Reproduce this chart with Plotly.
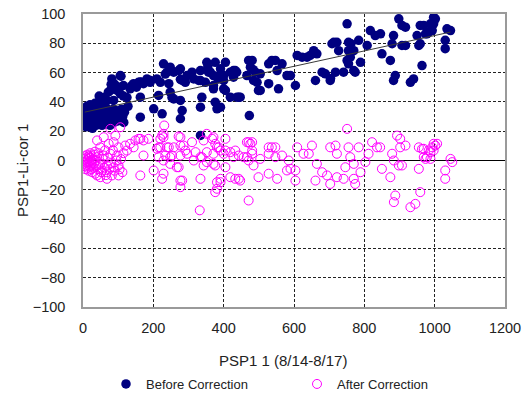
import numpy as np
import plotly.graph_objects as go

# Before correction: (PSP1 1, PSP1 - Li-cor 1)
before_x = [
    5, 6, 7, 8, 9, 10, 11, 12, 13, 14, 15, 16, 17, 18, 19, 20, 21, 22, 23, 24, 25, 26, 27, 28, 29, 30,
    32, 33, 34, 35, 37, 38, 40, 41, 43, 45, 46, 48, 50, 52, 54, 55, 57, 58, 60, 62, 64, 66, 68, 70,
    72, 75, 77, 80, 83, 86, 88, 90, 93, 96, 99, 103, 106, 110, 113, 116, 118,
    45, 49, 46, 59, 68, 87, 72, 78, 97, 106, 90, 82, 80, 103, 106, 108, 115, 115, 125, 134, 138,
    144, 152, 158, 167, 172, 182, 191, 163, 128, 163,
    163, 192, 201, 210, 215, 220, 225, 229, 234, 239, 244, 248, 248, 253, 258, 258, 272, 277, 277,
    277, 277, 282, 282, 291, 296, 310, 315, 329, 334, 334, 334, 334, 338, 348, 352, 355, 357, 362,
    371, 371, 371, 376, 376, 381, 381, 386, 391, 391, 391, 400, 400, 400, 405, 405, 419, 419, 428,
    428, 433, 438, 443,
    437, 447, 466, 471, 473, 476, 481, 484, 485, 490, 495, 499, 504, 504, 528, 528, 537, 547, 552,
    556, 566, 580, 590, 604, 609, 623, 637, 646, 656, 661, 665, 680, 689, 703, 704, 708, 713, 718,
    722, 727, 741, 751, 751, 755, 755, 755, 760, 762, 770, 770, 774, 784, 789, 808, 817, 831, 846,
    850, 874, 879, 883, 883, 888, 898, 907, 907, 917, 917, 931, 940, 950, 955, 959, 959, 964, 969,
    974, 978, 983, 988, 993, 997, 997, 1002, 1030, 1030, 1035, 1045,
]
before_y = [
    28, 31, 25, 34, 29, 23, 37, 27, 31, 33, 26, 29, 35, 24, 30, 38, 27, 32, 29, 25, 34, 31, 22, 36, 28, 30,
    26, 33, 39, 29, 24, 31, 35, 27, 30, 25, 37, 32, 28, 34, 24, 30, 38, 27, 33, 29, 25, 36, 31, 27,
    34, 29, 24, 32, 28, 35, 26, 31, 29, 34, 27, 32, 29, 35, 30, 26, 33,
    40, 41, 44, 43, 41, 41, 46.6, 47.8, 47.8, 45.5, 52, 55.7, 52, 50, 58, 57.5, 51.2, 44, 43, 48.9, 51,
    52.4, 50, 53.4, 53.4, 52.4, 55.7, 53.4, 43.2, 37, 29.6,
    53.5, 54.6, 35.3, 55.7, 44.4, 53.4, 31.9, 66, 59, 60.3, 52.4, 63.7, 46.6, 43, 60.3, 42, 61.4, 62.6, 55.4,
    41, 28.5, 54.6, 34.1, 53.4, 58, 60.3, 55.7, 54.6, 61.4, 54.6, 36.4, 17.1, 43.2, 53.4, 67, 64, 60.3, 60.3,
    58, 51.2, 48.9, 67, 39.8, 56.9, 35.3, 55.7, 62.6, 59, 36.4, 58, 54.6, 48.9, 67, 47.8, 60.3, 43.2, 61.4,
    56.9, 61.4, 43.2, 43.2,
    60.3, 43.2, 58, 68.3, 30.7, 63.7, 68.3, 62, 54.6, 60.3, 53.4, 47.8, 59.2, 47.8, 52.4, 66, 68.3, 68.3, 61.4,
    48.9, 66, 58, 58, 51.2, 71.7, 70.5, 70.5, 71.7, 75, 54.6, 72.8, 60.3, 59.2, 54.6, 56, 79.7, 80.7, 60.3,
    80.7, 75, 60.3, 93.3, 68.3, 80.7, 75, 66, 70.5, 79.7, 75, 61.4, 60.3, 82, 67, 78.5, 88.7, 85.3, 86.5,
    72.8, 68.3, 79.7, 85.3, 54.6, 58, 96.7, 92.2, 78.5, 91, 78.5, 53.4, 55.7, 85.3, 78.5, 92.2, 79.7, 64.8, 92.2,
    86.5, 86.5, 87.6, 93.3, 88.7, 93.3, 97.8, 96.7, 82, 76.3, 89.9, 88.7,
]

# After correction
after_x = [
    3, 4, 5, 6, 7, 8, 9, 10, 11, 12, 13, 14, 15, 16, 17, 18, 19, 20, 21, 22, 23, 24, 25, 26, 27, 28,
    30, 31, 32, 34, 35, 36, 38, 40, 40, 40, 42, 44, 47, 49, 49, 49, 52, 54, 56, 59, 59, 61, 63, 65,
    68, 68, 68, 70, 73, 75, 78, 78, 80, 82, 85, 87, 87, 90, 92, 95, 97, 101, 101, 101, 104, 106, 108,
    112, 115,
    120, 125, 134, 144, 149, 158, 163, 163, 172, 172, 186, 201, 210, 215, 215, 220, 220, 225, 225, 229,
    229, 229, 229, 231, 234, 239, 244, 248, 248, 253, 258, 267, 272, 272, 277, 277, 277, 277, 277, 282,
    286, 291, 296, 310, 315, 320, 332, 334, 334, 338, 343, 343, 352, 352, 352, 367, 371, 371, 371, 376,
    376, 376, 381, 381, 381, 386, 391, 391, 391, 400, 405, 405, 405, 419, 419, 428, 433, 433, 443, 443,
    447, 457, 466, 466, 471, 471, 471, 476, 481, 481, 481, 485, 499, 504, 528, 528, 528, 537, 547, 547,
    552, 566, 580, 585, 590, 604, 604, 609, 627, 642, 651, 661, 665, 680, 694, 703, 703, 718, 722, 722,
    741, 746, 751, 755, 760, 770, 770, 774, 784, 789, 803, 812, 822, 836, 845, 850, 874, 879, 884, 884,
    888, 893, 898, 902, 902, 907, 917, 931, 945, 955, 955, 959, 964, 969, 969, 974, 978, 983, 988, 988,
    993, 997, 997, 1002, 1007, 1030, 1030, 1045, 1050,
]
after_y = [
    -2, 1, -4, 3, -1, -6, 2, -3, 0, 4, -5, -2, 1, -7, 3, -1, -4, 2, 5, -3, 0, -6, 3, -8, -1, 1,
    -5, 4, -2, 6, -9, 0, -4, 2.3, -10.2, 13.7, -6, 5, -3, 9, -2.3, -11.4, -8, -6.8, 1, 15.9, 3.4, -5, 7, -10,
    -3.4, -8, -12.5, 2, 11.4, -6, 21.6, 4.6, -2, -10.2, 7, 12.5, -4.6, -7, 17, 0, 3.4, 9, -3.4, -10.2, -6, 22.7, 1,
    -8, 5,
    10.2, 6.8, 11.4, 9, 13.7, 14.8, 14.8, -10.2, 13.7, 3.4, 14.8, -6.8, 8, 9, 2.3, 14.8, 9, 17, -12.5, 18.2,
    15.9, 0, -9, 23.9, 3.4, 9, 9, 2.3, -2.3, 3.4, 9, -4.6, 16.4, -4.6, 15.9, 10.2, 3.4, -13.7, -18.2, -13.7,
    10.2, 6.8, 4.6, 12.5, 0, 5.7, -34, 2.3, -12.5, 2.3, 13.7, -3.4, 18.2, 5.7, -1.1, 14.8, 15.9, 4.6, -2.3, 11.4,
    -3.4, -21.6, 9, -14.8, -19.3, 9, 6.8, -12.5, -14.8, 4.6, 14.8, 6.8, -4.6, 5.7, -11.4, 2.3, 6.8, -12.5, 3.4, -12.5,
    -13.7, 2.3, 12.5, 2.3, 12.5, 0, -27.3, 11.4, 12.5, 6.8, 4.6, -3.4, -11.4, 1.1, 9, 4.6, -9, 9, 9, 2.3,
    -12.5, 3.4, -6.8, 0, -5.7, -6.8, -13.7, 9, 4.6, 4.6, 10.2, -13.7, -2.3, -8, -10.2, 9, -16, 10.2, 4.6, -11.4,
    -12.5, -4.6, 21.6, 9, 2.3, -2.3, -12.5, -16, 9, -8, -1.1, 4.6, 12.5, 9, 9, -5.7, -11.4, 4.6, 0, -28.4,
    -23.9, 17, -3.4, 14.8, 9, -3.4, 10.2, -31.9, -29.6, 9, -5.7, -21.6, 7.9, 2.3, 8, 1.1, 2.3, 6.8, 5.7, 1.1,
    9, 11.4, 6.8, 10.2, 11.4, -6.8, -12.5, 1.1, -1.1,
]

x_ticks = [0, 200, 400, 600, 800, 1000, 1200]
y_ticks = [-100, -80, -60, -40, -20, 0, 20, 40, 60, 80, 100]

# Linear trendline through the uncorrected readings
bx = np.array(before_x, dtype=float)
by = np.array(before_y, dtype=float)
slope, intercept = np.polyfit(bx, by, 1)
trend_x = np.array([bx.min(), bx.max()])
trend_y = slope * trend_x + intercept

FONT = "Liberation Sans, Arial, sans-serif"

fig = go.Figure()
fig.add_trace(go.Scatter(
    x=before_x, y=before_y, mode="markers", name="Before Correction",
    marker=dict(symbol="circle", size=9.5, color="#000080", line=dict(width=0)),
))
fig.add_trace(go.Scatter(
    x=after_x, y=after_y, mode="markers", name="After Correction",
    marker=dict(symbol="circle-open", size=9, color="#FF00FF", line=dict(width=1)),
))
fig.add_trace(go.Scatter(
    x=trend_x, y=trend_y, mode="lines", showlegend=False, hoverinfo="skip",
    line=dict(color="#3a3a3a", width=1),
))

axis_common = dict(
    showgrid=True, gridcolor="#222222", gridwidth=1, griddash="3px,2px",
    showline=True, linecolor="#9a9a9a", linewidth=1.5, mirror=True,
    automargin=False,
    ticks="", tickfont=dict(family=FONT, size=14.5, color="#222222"),
)

fig.update_layout(
    width=523, height=398,
    margin=dict(l=83, r=18, t=14, b=91, autoexpand=False),
    paper_bgcolor="white", plot_bgcolor="white",
    xaxis=dict(range=[0, 1200], tickvals=x_ticks, zeroline=False,
               ticklabelstandoff=7, **axis_common),
    yaxis=dict(range=[-100, 100], tickvals=y_ticks, zeroline=True,
               zerolinecolor="black", zerolinewidth=1.2,
               ticklabelstandoff=13, **axis_common),
    showlegend=True,
    legend=dict(orientation="h", xref="container", yref="container",
                x=106 / 523, y=(398 - 384) / 398, xanchor="left", yanchor="middle",
                font=dict(family=FONT, size=13, color="#222222"),
                entrywidth=146, entrywidthmode="pixels",
                bgcolor="rgba(0,0,0,0)", borderwidth=0),
    annotations=[
        dict(text="PSP1-Li-cor 1", xref="paper", yref="paper", x=-0.1445, y=0.464,
             textangle=-90, showarrow=False, xanchor="center", yanchor="middle",
             font=dict(family=FONT, size=15, color="#222222")),
        dict(text="PSP1 1 (8/14-8/17)", xref="paper", yref="paper", x=0.475, y=-0.184,
             showarrow=False, xanchor="center", yanchor="middle",
             font=dict(family=FONT, size=15, color="#222222")),
    ],
)

fig.write_html("out.html")
